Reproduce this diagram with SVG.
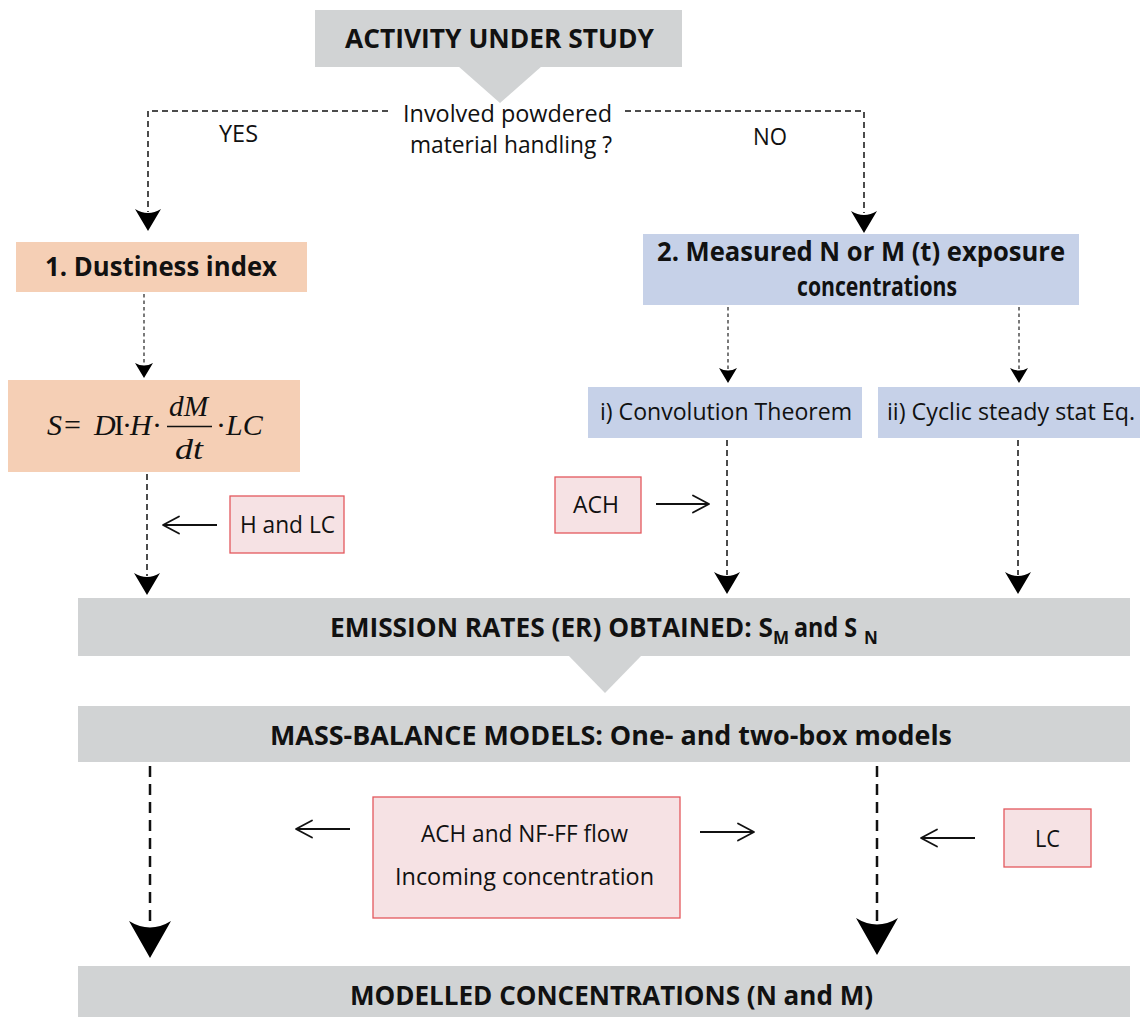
<svg xmlns="http://www.w3.org/2000/svg" width="1142" height="1019" viewBox="0 0 1142 1019">
  <defs>
    <style>
      .gray{fill:#d1d3d4}
      .peach{fill:#f5cfb5}
      .blue{fill:#c6d1e8}
      .note{fill:#f6e2e4;stroke:#e3585d;stroke-width:1.3}
      text{font-family:"Open Sans","Liberation Sans",Arial,sans-serif;fill:#111}
      .b{font-weight:700;font-size:26px}
      .r{font-size:23px}
      .sub{font-weight:700;font-size:17px}
      .m{font-family:"Liberation Serif","Times New Roman",serif;font-size:30px}
      .i{font-style:italic}
      .dash{fill:none;stroke:#111;stroke-width:1.5;stroke-dasharray:6 4}
      .dot{fill:none;stroke:#222;stroke-width:1.2;stroke-dasharray:3.5 3}
      .dashL{fill:none;stroke:#111;stroke-width:2.5;stroke-dasharray:11 7}
      .solid{fill:none;stroke:#111;stroke-width:1.8;marker-end:url(#open)}
    </style>
    <!-- filled arrowheads with a concave back, tip at the origin, pointing down -->
    <path id="ahS" d="M0 0 L-9 -15 Q0 -10 9 -15 Z" fill="#000"/>
    <path id="ahM" d="M0 0 L-13 -22 Q0 -14 13 -22 Z" fill="#000"/>
    <path id="ahL" d="M0 0 L-21 -37 Q0 -24 21 -37 Z" fill="#000"/>
    <!-- open chevron head for the thin input arrows -->
    <marker id="open" markerUnits="userSpaceOnUse" viewBox="-20 -11 22 22" markerWidth="22" markerHeight="22" refX="0" refY="0" orient="auto">
      <path d="M-16 -8.5 L0 0 L-16 8.5" fill="none" stroke="#111" stroke-width="1.8" stroke-linejoin="round" stroke-linecap="round"/>
    </marker>
  </defs>

  <rect width="1142" height="1019" fill="#fff"/>

  <!-- connectors -->
  <g id="connectors">
    <path class="dash" d="M388 111 H148 V212"/>
    <use href="#ahM" x="148" y="231"/>
    <path class="dash" d="M625 111 H864 V213"/>
    <use href="#ahM" x="864" y="233"/>

    <path class="dot" d="M144 294 V364"/>
    <use href="#ahS" x="144" y="378"/>
    <path class="dash" d="M147 474 V576"/>
    <use href="#ahM" x="147" y="595"/>

    <path class="dot" d="M728 307 V370"/>
    <use href="#ahS" x="728" y="383"/>
    <path class="dot" d="M1019 307 V370"/>
    <use href="#ahS" x="1019" y="383"/>

    <path class="dash" d="M727 440 V575"/>
    <use href="#ahM" x="727" y="594"/>
    <path class="dash" d="M1018 440 V575"/>
    <use href="#ahM" x="1018" y="594"/>

    <path class="dashL" d="M150 766 V925"/>
    <use href="#ahL" x="150" y="958"/>
    <path class="dashL" d="M877 766 V922"/>
    <use href="#ahL" x="877" y="955"/>

    <path class="solid" d="M217 525 H163"/>
    <path class="solid" d="M656 504 H709"/>
    <path class="solid" d="M350 829 H296"/>
    <path class="solid" d="M700 832 H754"/>
    <path class="solid" d="M975 838 H921"/>
  </g>

  <!-- start -->
  <g id="activity">
    <rect class="gray" x="315" y="10" width="367" height="57"/>
    <polygon class="gray" points="458,66 542,66 500,103"/>
    <text class="b" x="345" y="48" textLength="309" lengthAdjust="spacingAndGlyphs">ACTIVITY UNDER STUDY</text>
  </g>

  <g id="question">
    <text class="r" x="403" y="122" textLength="209" lengthAdjust="spacingAndGlyphs">Involved powdered</text>
    <text class="r" x="410" y="153" textLength="202" lengthAdjust="spacingAndGlyphs">material handling ?</text>
  </g>

  <g id="label-yes">
    <text class="r" x="219" y="142" textLength="39" lengthAdjust="spacingAndGlyphs">YES</text>
  </g>
  <g id="label-no">
    <text class="r" x="753" y="145" textLength="34" lengthAdjust="spacingAndGlyphs">NO</text>
  </g>

  <!-- branch 1 -->
  <g id="dustiness">
    <rect class="peach" x="16" y="242" width="291" height="50"/>
    <text class="b" x="45" y="276" textLength="232" lengthAdjust="spacingAndGlyphs">1. Dustiness index</text>
  </g>

  <g id="formula">
    <rect class="peach" x="8" y="380" width="292" height="92"/>
    <text class="m" y="435"><tspan class="i" x="47">S</tspan><tspan x="64">=</tspan><tspan class="i" x="94">D</tspan><tspan x="114">I</tspan><tspan x="122">·</tspan><tspan class="i" x="130">H</tspan><tspan x="152">·</tspan><tspan x="216">·</tspan><tspan class="i" x="226">LC</tspan></text>
    <text class="m i" x="169" y="416" textLength="39" lengthAdjust="spacingAndGlyphs">dM</text>
    <line x1="167" y1="426.5" x2="212" y2="426.5" stroke="#111" stroke-width="1.3"/>
    <text class="m i" x="175" y="459" textLength="28" lengthAdjust="spacingAndGlyphs">dt</text>
  </g>

  <g id="h-and-lc">
    <rect class="note" x="230" y="496" width="114" height="57"/>
    <text class="r" x="240" y="533" textLength="95" lengthAdjust="spacingAndGlyphs">H and LC</text>
  </g>

  <!-- branch 2 -->
  <g id="measured">
    <rect class="blue" x="643" y="234" width="436" height="71"/>
    <text class="b" x="657" y="261" textLength="408" lengthAdjust="spacingAndGlyphs">2. Measured N or M (t) exposure</text>
    <text class="b" x="797" y="296" textLength="160" lengthAdjust="spacingAndGlyphs">concentrations</text>
  </g>

  <g id="convolution">
    <rect class="blue" x="588" y="387" width="274" height="51"/>
    <text class="r" x="600" y="420" textLength="252" lengthAdjust="spacingAndGlyphs">i) Convolution Theorem</text>
  </g>

  <g id="cyclic">
    <rect class="blue" x="878" y="387" width="262" height="51"/>
    <text class="r" x="887" y="420" textLength="248" lengthAdjust="spacingAndGlyphs">ii) Cyclic steady stat Eq.</text>
  </g>

  <g id="ach">
    <rect class="note" x="555" y="477" width="86" height="56"/>
    <text class="r" x="573" y="513" textLength="46" lengthAdjust="spacingAndGlyphs">ACH</text>
  </g>

  <!-- common steps -->
  <g id="emission-rates">
    <rect class="gray" x="78" y="598" width="1052" height="58"/>
    <polygon class="gray" points="568,655 642,655 605,693"/>
    <text class="b" y="637"><tspan x="330" textLength="443" lengthAdjust="spacingAndGlyphs">EMISSION RATES (ER) OBTAINED: S</tspan><tspan class="sub" x="773" y="644">M</tspan><tspan x="794" y="637" textLength="63" lengthAdjust="spacingAndGlyphs">and S</tspan><tspan class="sub" x="864" y="644">N</tspan></text>
  </g>

  <g id="mass-balance">
    <rect class="gray" x="78" y="706" width="1052" height="56"/>
    <text class="b" x="270" y="745" textLength="682" lengthAdjust="spacingAndGlyphs">MASS-BALANCE MODELS: One- and two-box models</text>
  </g>

  <g id="ach-nfff">
    <rect class="note" x="373" y="797" width="307" height="121"/>
    <text class="r" x="421" y="842" textLength="207" lengthAdjust="spacingAndGlyphs">ACH and NF-FF flow</text>
    <text class="r" x="395" y="885" textLength="259" lengthAdjust="spacingAndGlyphs">Incoming concentration</text>
  </g>

  <g id="lc">
    <rect class="note" x="1004" y="809" width="87" height="58"/>
    <text class="r" x="1035" y="847" textLength="25" lengthAdjust="spacingAndGlyphs">LC</text>
  </g>

  <g id="modelled">
    <rect class="gray" x="78" y="966" width="1052" height="51"/>
    <text class="b" x="350" y="1005" textLength="523" lengthAdjust="spacingAndGlyphs">MODELLED CONCENTRATIONS (N and M)</text>
  </g>
</svg>
